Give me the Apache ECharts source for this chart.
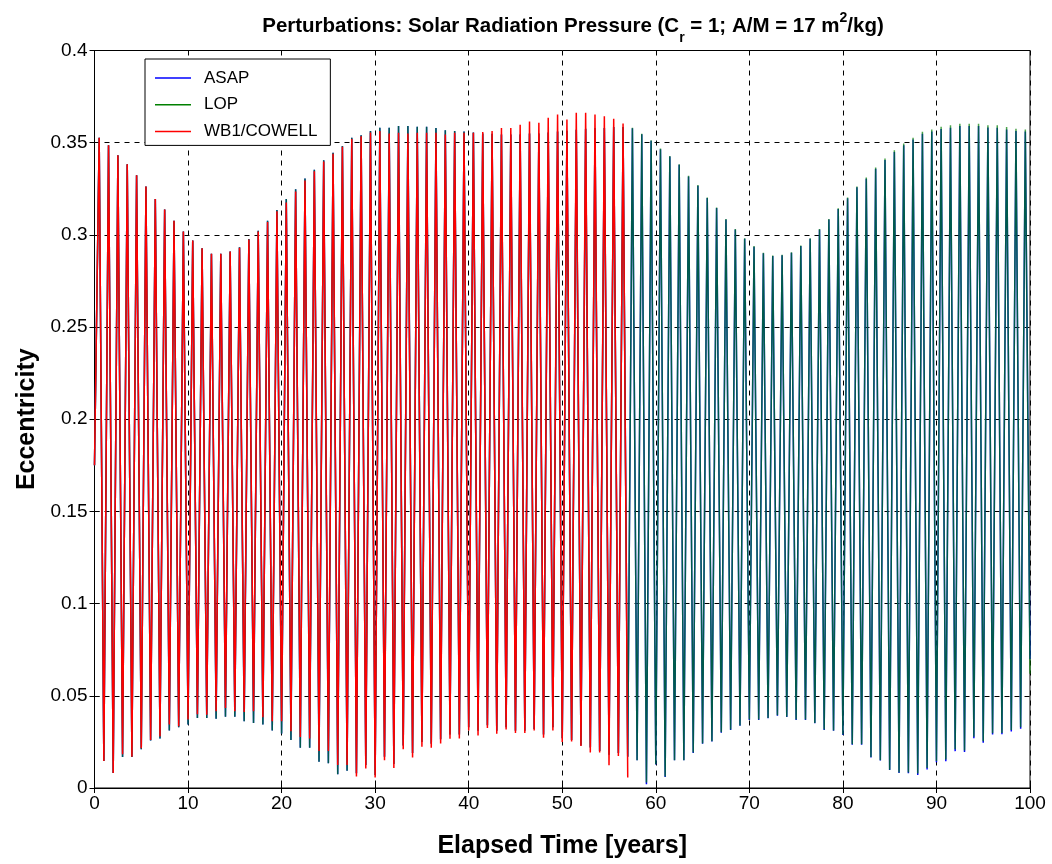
<!DOCTYPE html>
<html>
<head>
<meta charset="utf-8">
<script src="https://cdn.jsdelivr.net/npm/echarts@6/dist/echarts.min.js"></script>
<style>
html,body{margin:0;padding:0;background:#fff;}
#chart{width:1052px;height:864px;}
</style>
</head>
<body>
<div id="chart"></div>
<script>
// ---- Data (eccentricity extremes, one per yearly cycle) ----
// Peaks occur mid-year (k + 0.5), troughs at the year boundary (k + 1).
const START_VALUE = { ASAP: 0.175, LOP: 0.175, WB1: 0.175 };
const END_VALUE = { ASAP: 0.070, LOP: 0.062 };

const LOP_PEAKS = [
0.3527,0.3486,0.3432,0.3383,0.3324,0.3263,0.3194,0.3137,0.3076,0.3018,
0.2970,0.2928,0.2897,0.2897,0.2910,0.2933,0.2978,0.3023,0.3077,0.3135,
0.3194,0.3248,0.3306,0.3353,0.3405,0.3446,0.3482,0.3527,0.3540,0.3563,
0.3581,0.3581,0.3590,0.3590,0.3586,0.3586,0.3579,0.3568,0.3563,0.3560,
0.3555,0.3550,0.3548,0.3545,0.3545,0.3545,0.3550,0.3550,0.3555,0.3560,
0.3565,0.3570,0.3575,0.3580,0.3580,0.3585,0.3585,0.3581,0.3549,0.3513,
0.3468,0.3428,0.3383,0.3320,0.3270,0.3203,0.3149,0.3086,0.3032,0.2982,
0.2939,0.2903,0.2888,0.2892,0.2906,0.2942,0.2982,0.3032,0.3086,0.3144,
0.3203,0.3263,0.3311,0.3365,0.3414,0.3459,0.3495,0.3527,0.3559,0.3572,
0.3586,0.3594,0.3603,0.3603,0.3603,0.3595,0.3594,0.3585,0.3576,0.3572];

const LOP_TROUGHS = [
0.0147,0.0081,0.0168,0.0168,0.0210,0.0258,0.0269,0.0312,0.0330,0.0344,
0.0380,0.0380,0.0376,0.0387,0.0387,0.0362,0.0353,0.0344,0.0312,0.0296,
0.0260,0.0219,0.0219,0.0142,0.0134,0.0075,0.0093,0.0080,0.0125,0.0070,
0.0170,0.0130,0.0230,0.0190,0.0250,0.0240,0.0265,0.0290,0.0290,0.0330,
0.0310,0.0340,0.0310,0.0330,0.0310,0.0310,0.0320,0.0290,0.0330,0.0270,
0.0260,0.0230,0.0220,0.0200,0.0180,0.0190,0.0170,0.0151,0.0030,0.0129,
0.0063,0.0151,0.0151,0.0192,0.0242,0.0254,0.0303,0.0317,0.0339,0.0371,
0.0371,0.0380,0.0394,0.0387,0.0371,0.0371,0.0353,0.0317,0.0312,0.0290,
0.0237,0.0237,0.0168,0.0151,0.0099,0.0084,0.0084,0.0078,0.0108,0.0147,
0.0154,0.0210,0.0204,0.0278,0.0254,0.0297,0.0299,0.0314,0.0330];

const ASAP_PEAKS = [
0.3527,0.3486,0.3432,0.3383,0.3324,0.3263,0.3194,0.3137,0.3076,0.3018,
0.2970,0.2928,0.2897,0.2897,0.2910,0.2933,0.2978,0.3023,0.3077,0.3135,
0.3194,0.3248,0.3306,0.3353,0.3405,0.3446,0.3482,0.3527,0.3540,0.3563,
0.3581,0.3581,0.3590,0.3590,0.3586,0.3586,0.3579,0.3568,0.3563,0.3560,
0.3555,0.3550,0.3548,0.3545,0.3545,0.3545,0.3550,0.3550,0.3555,0.3560,
0.3565,0.3570,0.3575,0.3580,0.3580,0.3585,0.3585,0.3578,0.3546,0.3510,
0.3465,0.3425,0.3380,0.3317,0.3267,0.3200,0.3146,0.3083,0.3029,0.2979,
0.2936,0.2900,0.2885,0.2889,0.2903,0.2939,0.2979,0.3029,0.3083,0.3140,
0.3198,0.3258,0.3305,0.3358,0.3406,0.3450,0.3486,0.3517,0.3548,0.3560,
0.3574,0.3581,0.3590,0.3590,0.3590,0.3582,0.3581,0.3572,0.3563,0.3560];

const ASAP_TROUGHS = [
0.0147,0.0081,0.0168,0.0168,0.0210,0.0258,0.0269,0.0312,0.0330,0.0344,
0.0380,0.0380,0.0376,0.0387,0.0387,0.0362,0.0353,0.0344,0.0312,0.0296,
0.0260,0.0219,0.0219,0.0142,0.0134,0.0075,0.0093,0.0080,0.0125,0.0070,
0.0170,0.0130,0.0230,0.0190,0.0250,0.0240,0.0265,0.0290,0.0290,0.0330,
0.0310,0.0340,0.0310,0.0330,0.0310,0.0310,0.0320,0.0290,0.0330,0.0270,
0.0260,0.0230,0.0220,0.0200,0.0180,0.0190,0.0170,0.0150,0.0020,0.0127,
0.0060,0.0150,0.0150,0.0190,0.0240,0.0252,0.0300,0.0315,0.0337,0.0369,
0.0369,0.0378,0.0392,0.0385,0.0369,0.0369,0.0351,0.0315,0.0310,0.0288,
0.0235,0.0235,0.0166,0.0149,0.0097,0.0082,0.0080,0.0070,0.0100,0.0140,
0.0145,0.0200,0.0195,0.0270,0.0245,0.0290,0.0292,0.0306,0.0322];

const WB1_PEAKS = [
0.3527,0.3486,0.3432,0.3383,0.3324,0.3263,0.3194,0.3137,0.3076,0.3018,
0.2970,0.2928,0.2897,0.2897,0.2910,0.2930,0.2975,0.3018,0.3070,0.3128,
0.3176,0.3235,0.3295,0.3345,0.3398,0.3440,0.3478,0.3520,0.3535,0.3555,
0.3563,0.3550,0.3554,0.3550,0.3554,0.3554,0.3554,0.3545,0.3554,0.3554,
0.3554,0.3558,0.3563,0.3579,0.3579,0.3597,0.3615,0.3608,0.3635,0.3653,
0.3626,0.3662,0.3662,0.3653,0.3644,0.3630,0.3604];

const WB1_TROUGHS = [
0.0147,0.0081,0.0183,0.0170,0.0215,0.0260,0.0280,0.0344,0.0335,0.0371,
0.0400,0.0397,0.0416,0.0434,0.0416,0.0412,0.0416,0.0384,0.0362,0.0362,
0.0308,0.0276,0.0269,0.0201,0.0201,0.0125,0.0125,0.0063,0.0106,0.0057,
0.0151,0.0108,0.0210,0.0165,0.0224,0.0219,0.0242,0.0267,0.0269,0.0312,
0.0285,0.0326,0.0294,0.0317,0.0299,0.0299,0.0312,0.0272,0.0312,0.0249,
0.0252,0.0228,0.0192,0.0192,0.0124,0.0174,0.0057];

const SERIES_NAMES = ['ASAP', 'LOP', 'WB1/COWELL'];
const SERIES_COLORS = ['#0000ff', '#008000', '#ff0000'];
const X_TICKS = [0,10,20,30,40,50,60,70,80,90,100];
const Y_TICKS = [0,0.05,0.1,0.15,0.2,0.25,0.3,0.35,0.4];

function buildTrack(start, peaks, troughs, end) {
  const pts = [[0, start]];
  for (let k = 0; k < peaks.length; k++) {
    pts.push([k + 0.5, peaks[k]]);
    if (k < troughs.length) pts.push([k + 1, troughs[k]]);
  }
  if (end !== undefined) pts.push([100, end]);
  return pts;
}

const asapData = buildTrack(START_VALUE.ASAP, ASAP_PEAKS, ASAP_TROUGHS, END_VALUE.ASAP);
const lopData = buildTrack(START_VALUE.LOP, LOP_PEAKS, LOP_TROUGHS, END_VALUE.LOP);
const wb1Data = buildTrack(START_VALUE.WB1, WB1_PEAKS, WB1_TROUGHS);

const FONT = 'Arial, "Liberation Sans", Helvetica, sans-serif';
const chart = echarts.init(document.getElementById('chart'), null, { renderer: 'canvas' });

const gridLine = { show: true, lineStyle: { color: '#000', type: [5, 5], width: 1 } };
const axisLine = { show: true, lineStyle: { color: '#000', width: 1 } };

chart.setOption({
  animation: false,
  backgroundColor: '#fff',
  title: {
    text: '{b|Perturbations: Solar Radiation Pressure (C}{sub|r}{b| = 1; A/M = 17 m}{sup|2}{b|/kg)}',
    left: 568, textAlign: 'center', top: 8,
    textStyle: {
      rich: {
        b: { fontFamily: FONT, fontSize: 20.5, fontWeight: 'bold', color: '#000', lineHeight: 27, verticalAlign: 'middle' },
        sub: { fontFamily: FONT, fontSize: 14, fontWeight: 'bold', color: '#000', lineHeight: 14, verticalAlign: 'bottom', padding: [0, 0, -5, 0] },
        sup: { fontFamily: FONT, fontSize: 14, fontWeight: 'bold', color: '#000', lineHeight: 14, verticalAlign: 'top', padding: [-2, 0, 0, 0] }
      }
    }
  },
  legend: {
    orient: 'vertical',
    left: 145, top: 59,
    data: SERIES_NAMES,
    icon: 'rect',
    itemWidth: 36, itemHeight: 1.5,
    itemGap: 6.7,
    padding: [9, 13, 4, 10],
    backgroundColor: '#fff',
    borderColor: '#000', borderWidth: 1,
    textStyle: { fontFamily: FONT, fontSize: 17, color: '#000', lineHeight: 20, padding: [0, 0, 0, 8] }
  },
  grid: { left: 94.5, right: 22, top: 50.5, bottom: 73.5, show: true, borderColor: '#000', borderWidth: 1, backgroundColor: 'transparent' },
  xAxis: [{
    type: 'value', min: 0, max: 100, interval: 10,
    name: 'Elapsed Time [years]', nameLocation: 'middle', nameGap: 46,
    nameTextStyle: { fontFamily: FONT, fontSize: 25, fontWeight: 'bold', color: '#000' },
    axisLine: axisLine,
    axisTick: { show: true, inside: true, length: 5, lineStyle: { color: '#000' } },
    axisLabel: { fontFamily: FONT, fontSize: 19, color: '#000', margin: 6, formatter: v => X_TICKS.indexOf(v) >= 0 ? String(v) : '' },
    splitLine: gridLine
  }, {
    type: 'value', min: 0, max: 100, interval: 10, position: 'top',
    axisLine: axisLine,
    axisTick: { show: true, inside: true, length: 5, lineStyle: { color: '#000' } },
    axisLabel: { show: false }, splitLine: { show: false }
  }],
  yAxis: [{
    type: 'value', min: 0, max: 0.4, interval: 0.05,
    name: 'Eccentricity', nameLocation: 'middle', nameGap: 55,
    nameTextStyle: { fontFamily: FONT, fontSize: 25, fontWeight: 'bold', color: '#000' },
    axisLine: axisLine,
    axisTick: { show: true, inside: true, length: 5, lineStyle: { color: '#000' } },
    axisLabel: { fontFamily: FONT, fontSize: 19, color: '#000', margin: 7, formatter: v => String(+v.toFixed(2)) },
    splitLine: gridLine
  }, {
    type: 'value', min: 0, max: 0.4, interval: 0.05, position: 'right',
    axisLine: axisLine,
    axisTick: { show: true, inside: true, length: 5, lineStyle: { color: '#000' } },
    axisLabel: { show: false }, splitLine: { show: false }
  }],
  series: [
    { name: SERIES_NAMES[0], type: 'line', data: asapData, showSymbol: false, symbol: 'none',
      lineStyle: { color: SERIES_COLORS[0], width: 1.5 }, itemStyle: { color: SERIES_COLORS[0] }, z: 2 },
    { name: SERIES_NAMES[1], type: 'line', data: lopData, showSymbol: false, symbol: 'none',
      lineStyle: { color: SERIES_COLORS[1], width: 1.5, opacity: 0.7 }, itemStyle: { color: SERIES_COLORS[1] }, z: 3 },
    { name: SERIES_NAMES[2], type: 'line', data: wb1Data, showSymbol: false, symbol: 'none',
      lineStyle: { color: SERIES_COLORS[2], width: 1.5 }, itemStyle: { color: SERIES_COLORS[2] }, z: 4 }
  ]
});
</script>
</body>
</html>
